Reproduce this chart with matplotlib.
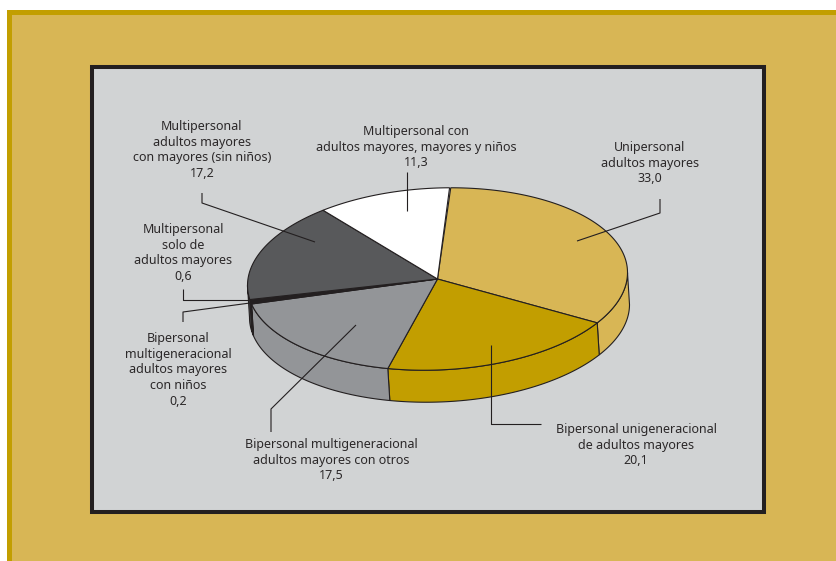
import numpy as np
import matplotlib
matplotlib.use("Agg")
import matplotlib.pyplot as plt
from matplotlib.patches import Rectangle, Polygon

plt.rcParams['font.family'] = 'Noto Sans'

# slices, clockwise from the top
categories = [
    "Unipersonal\nadultos mayores",
    "Bipersonal unigeneracional\nde adultos mayores",
    "Bipersonal multigeneracional\nadultos mayores con otros",
    "Bipersonal\nmultigeneracional\nadultos mayores\ncon niños",
    "Multipersonal\nsolo de\nadultos mayores",
    "Multipersonal\nadultos mayores\ncon mayores (sin niños)",
    "Multipersonal con\nadultos mayores, mayores y niños",
]
values = [33.0, 20.1, 17.5, 0.2, 0.6, 17.2, 11.3]
colors = ['#D8B655', '#C29E00', '#939598', '#231F20', '#231F20', '#58595B', '#FFFFFF']

# where the label blocks sit (center x, top y)
label_pos = [(650, 141), (636, 423), (331, 438), (178, 332), (183, 223), (202, 120), (416, 125)]

# leader lines, in pixels
leaders = [
    [(660, 199), (660, 213), (577, 241)],
    [(491, 345), (491, 424), (541, 424)],
    [(356, 325), (271, 409), (271, 432)],
    [(183, 322), (183, 312), (250, 303)],
    [(183, 289), (183, 300), (248, 300)],
    [(202, 193), (202, 203), (315, 242)],
    [(407, 172), (407, 211)],
]

cx, cy = 437.5, 279
rx, ry = 190, 91
dx, dy = 2, 32
tilt = 0.034  # the ellipse leans a little, right side up
start = 86


def arc(t0, t1, shift=False):
    t = np.radians(np.linspace(t0, t1, max(int(abs(t1 - t0)) * 2, 2)))
    x = cx + rx * np.cos(t)
    y = cy + ry * np.sin(-t) - tilt * rx * np.cos(t)
    if shift:
        x, y = x + dx, y + dy
    return np.column_stack([x, y])


fig = plt.figure(figsize=(8.36, 5.61), dpi=100)
ax = fig.add_axes([0, 0, 1, 1])
ax.set_xlim(0, 836)
ax.set_ylim(561, 0)
ax.axis('off')

# background and frames
ax.add_patch(Rectangle((7, 10), 829, 551, fc='#C29E00', ec='none', zorder=0))
ax.add_patch(Rectangle((12, 15), 824, 546, fc='#D8B655', ec='none', zorder=0))
ax.add_patch(Rectangle((92, 67), 672, 444.5, fc='#D1D3D4', ec='#231F20', lw=2.9, zorder=1))

edges = start - np.cumsum([0] + values) * 3.6

# side wall first, only the front half shows
for i in range(len(values)):
    t0, t1 = edges[i], edges[i + 1]
    a, b = min(t0, 0), max(t1, -180)
    if a <= b:
        continue
    wall = np.vstack([arc(a, b), arc(b, a, shift=True)])
    ax.add_patch(Polygon(wall, closed=True, fc=colors[i], ec='#231F20', lw=0.8, zorder=2))

# top of the pie
for i in range(len(values)):
    top = np.vstack([[(cx, cy)], arc(edges[i], edges[i + 1])])
    ax.add_patch(Polygon(top, closed=True, fc=colors[i], ec='#231F20', lw=0.8, zorder=3))

for pts in leaders:
    xs, ys = zip(*pts)
    ax.plot(xs, ys, color='#231F20', lw=0.8, zorder=4, solid_capstyle='butt')

for name, val, (x, y) in zip(categories, values, label_pos):
    txt = name + "\n" + f"{val:.1f}".replace('.', ',')
    ax.text(x, y, txt, ha='center', va='top', fontsize=9, color='#2B2829',
            linespacing=1.27, zorder=5)

fig.savefig('out.png', dpi=100)
plt.close()
